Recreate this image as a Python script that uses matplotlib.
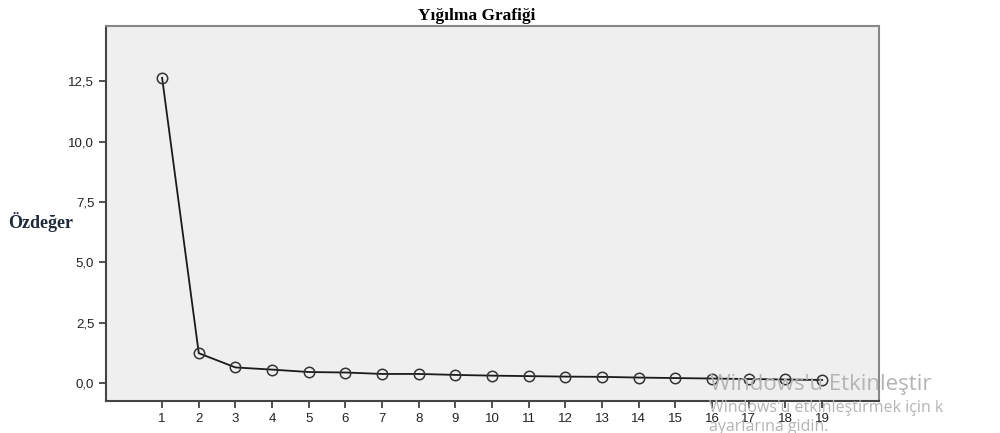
import matplotlib
matplotlib.use("Agg")
import matplotlib.pyplot as plt
from matplotlib.ticker import FuncFormatter

# scree plot values
components = list(range(1, 20))
eigenvalues = [12.65, 1.23, 0.64, 0.55, 0.45, 0.43, 0.37, 0.37, 0.33, 0.30,
               0.28, 0.26, 0.25, 0.22, 0.20, 0.18, 0.16, 0.14, 0.12]
y_ticks = [0.0, 2.5, 5.0, 7.5, 10.0, 12.5]

title = "Yığılma Grafiği"
y_label = "Özdeğer"

fig = plt.figure(figsize=(10, 4.33), dpi=100)
ax = fig.add_axes([0.106, 0.074, 0.773, 0.866])
ax.set_facecolor("#efefef")

ax.plot(components, eigenvalues, color="#1a1a1a", linewidth=1.3,
        marker="o", markersize=7.5, markerfacecolor="none",
        markeredgecolor="#333333", markeredgewidth=1.1)

ax.set_xlim(-0.53, 20.55)
ax.set_ylim(-0.75, 14.8)
ax.set_xticks(components)
ax.set_yticks(y_ticks)
ax.yaxis.set_major_formatter(FuncFormatter(lambda v, p: f"{v:.1f}".replace(".", ",")))
ax.tick_params(direction="out", length=5, width=1.2, color="#333333",
               labelsize=9.5, labelcolor="#222222")
for lab in ax.get_xticklabels() + ax.get_yticklabels():
    lab.set_family("Liberation Sans")

for s in ["left", "bottom"]:
    ax.spines[s].set_color("#444444")
    ax.spines[s].set_linewidth(1.5)
for s in ["top", "right"]:
    ax.spines[s].set_color("#888888")
    ax.spines[s].set_linewidth(1.5)

fig.text(0.477, 0.962, title, ha="center", va="center", fontsize=12.5,
         fontweight="bold", family="Liberation Serif")
fig.text(0.008, 0.487, y_label, ha="left", va="center", fontsize=13,
         fontweight="bold", family="Liberation Serif", color="#1f2a3a")

# activation watermark from the screenshot
fig.text(0.71, 0.113, "Windows'u Etkinleştir", fontsize=16, color="#b4b4b4",
         family="Open Sans", va="center")
fig.text(0.709, 0.058, "Windows'u etkinleştirmek için k", fontsize=11.5,
         color="#b4b4b4", family="Open Sans", va="center")
fig.text(0.709, 0.014, "ayarlarına gidin.", fontsize=11.5,
         color="#b4b4b4", family="Open Sans", va="center")

fig.savefig("out.png", dpi=100)
